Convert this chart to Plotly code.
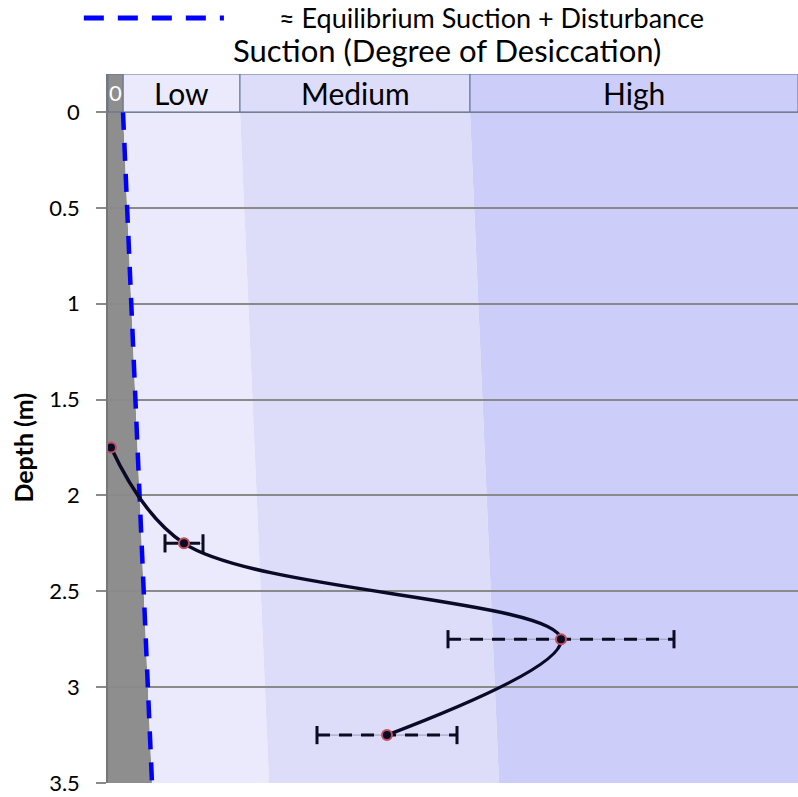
import plotly.graph_objects as go

# ---- data ----
depth_m = [1.75, 2.25, 2.75, 3.25]
suction = [0.03, 0.76, 4.53, 2.79]
suction_err = [0.0, 0.19, 1.13, 0.70]

# equilibrium suction line (suction at depth 0 and 3.5 m)
eq_depth = [0.0, 3.5]
eq_suction = [0.15, 0.44]

# zone boundaries as offset above equilibrium suction
zone_names = ["Low", "Medium", "High"]
zone_offsets = [0.0, 1.17, 3.47, 99]  # start offsets of Low, Medium, High, (end)
x_max = 6.9
header_top = -0.198

tick_vals = [0, 0.5, 1, 1.5, 2, 2.5, 3, 3.5]
tick_text = ["0", "0.5", "1", "1.5", "2", "2.5", "3", "3.5"]

zone_colors = ["#EAEAFC", "#DDDDFA", "#CDCDF9"]
gray = "#8E8E8E"
border = "#5E7392"
FONT = "Lato"

fig = go.Figure()

shapes = []
# gray region (below equilibrium)
shapes.append(dict(type="path", xref="x", yref="y", layer="below", line=dict(width=0), fillcolor=gray,
                   path=f"M 0 {eq_depth[0]} L {eq_suction[0]} {eq_depth[0]} L {eq_suction[1]} {eq_depth[1]} L 0 {eq_depth[1]} Z"))
for i, name in enumerate(zone_names):
    a0 = min(eq_suction[0] + zone_offsets[i], x_max)
    a1 = min(eq_suction[0] + zone_offsets[i + 1], x_max)
    b0 = min(eq_suction[1] + zone_offsets[i], x_max)
    b1 = min(eq_suction[1] + zone_offsets[i + 1], x_max)
    shapes.append(dict(type="path", xref="x", yref="y", layer="below", line=dict(width=0),
                       fillcolor=zone_colors[i],
                       path=f"M {a0} 0 L {a1} 0 L {b1} 3.5 L {b0} 3.5 Z"))
    # header cell
    shapes.append(dict(type="rect", xref="x", yref="y", layer="above", x0=a0, x1=a1, y0=header_top, y1=0,
                       fillcolor=zone_colors[i], line=dict(color=border, width=1)))
    fig.add_annotation(x=(a0 + a1) / 2, y=header_top / 2, xref="x", yref="y", text=name, showarrow=False,
                       font=dict(family=FONT, size=30, color="black"))
# header "0" cell
shapes.append(dict(type="rect", xref="x", yref="y", layer="above", x0=0, x1=eq_suction[0], y0=header_top, y1=0,
                   fillcolor=gray, line=dict(color=border, width=1)))
fig.add_annotation(x=eq_suction[0] / 2, y=header_top / 2, xref="x", yref="y", text="0", showarrow=False,
                   font=dict(family=FONT, size=22, color="white"))

# legend sample (manual)
shapes.append(dict(type="line", xref="paper", yref="paper", x0=-0.035, x1=0.168, y0=1.079, y1=1.079,
                   line=dict(color="#0000FF", width=5, dash="20px,14px")))
fig.add_annotation(x=0.245, y=1.079, xref="paper", yref="paper", xanchor="left", yanchor="middle",
                   text="≈ Equilibrium Suction + Disturbance", showarrow=False,
                   font=dict(family=FONT, size=27, color="black"))
# title
fig.add_annotation(x=0.4906, y=1.034, xref="paper", yref="paper", xanchor="center", yanchor="middle",
                   text="Suction (Degree of Desiccation)", showarrow=False,
                   font=dict(family=FONT, size=31, color="black"))
# y-axis title (centred on the depth range)
fig.add_annotation(x=-0.123, y=1.75, xref="paper", yref="y", xanchor="center", yanchor="middle",
                   text="<b>Depth (m)</b>", textangle=-90, showarrow=False,
                   font=dict(family=FONT, size=25, color="black"))

fig.update_layout(shapes=shapes)

# equilibrium line
fig.add_trace(go.Scatter(x=eq_suction, y=eq_depth, mode="lines", showlegend=False,
                         line=dict(color="#0000FF", width=4.5, dash="18px,13px"), hoverinfo="skip"))

# error bars: thin line, dashed thick line, caps
for s, d, e in zip(suction, depth_m, suction_err):
    if e <= 0:
        continue
    fig.add_trace(go.Scatter(x=[s - e, s + e], y=[d, d], mode="lines", showlegend=False,
                             line=dict(color="#9A9AB8", width=1)))
    fig.add_trace(go.Scatter(x=[s - e, s + e], y=[d, d], mode="lines+markers", showlegend=False,
                             line=dict(color="#0B0B22", width=3, dash="13px,9px"),
                             marker=dict(symbol="line-ns", size=13, line=dict(color="#0B0B22", width=3))))

# suction profile
fig.add_trace(go.Scatter(x=suction, y=depth_m, mode="lines+markers", showlegend=False,
                         line=dict(color="#0A0A28", width=3.5, shape="spline", smoothing=1.0),
                         marker=dict(size=10, color="#0A0A28", line=dict(color="#C0505A", width=2))))

fig.update_xaxes(range=[0, x_max], showgrid=False, zeroline=False, showticklabels=False, ticks="",
                 showline=False)
fig.update_yaxes(range=[3.5, header_top], tickvals=tick_vals, ticktext=tick_text, showgrid=True,
                 gridcolor="#8A8A8A", gridwidth=1.5, zeroline=False, ticks="outside", ticklen=10,
                 tickcolor="#8A8A8A", tickwidth=1.5, showline=True, linecolor="#777777", linewidth=1.5,
                 tickfont=dict(family=FONT, size=22, color="black"), automargin=False,
                 ticklabelstandoff=12)

fig.update_layout(width=798, height=797, margin=dict(l=108, r=0, t=74, b=14),
                  plot_bgcolor="white", paper_bgcolor="white", showlegend=False)

fig.write_html("out.html", config={"displayModeBar": False},
               post_script="document.body.style.margin='0';")
